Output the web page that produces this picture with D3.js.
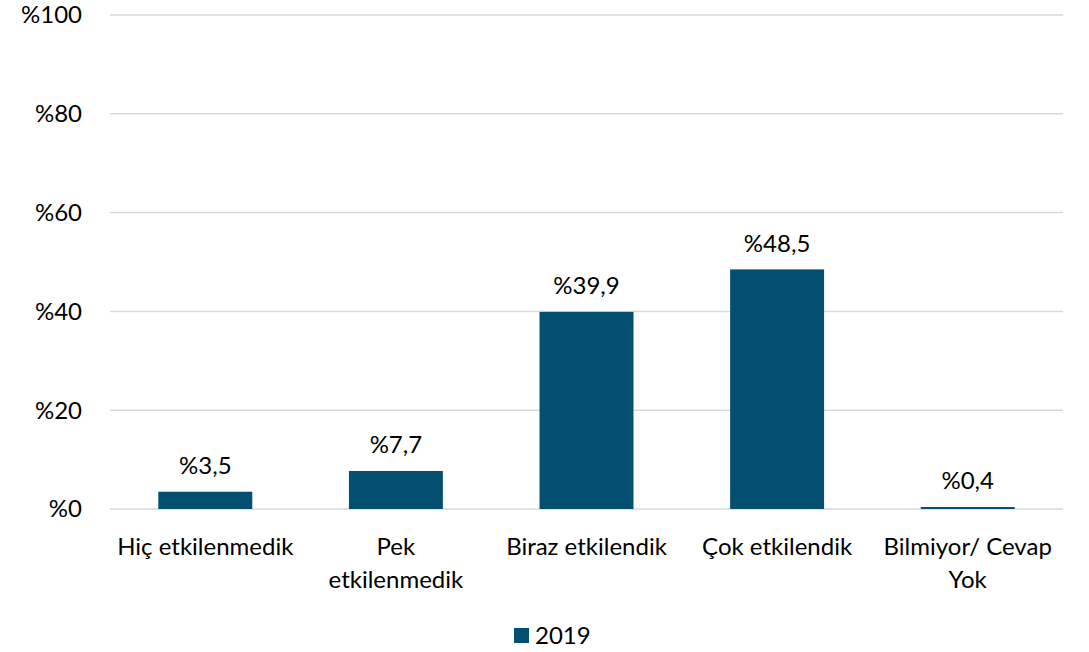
<!DOCTYPE html>
<html><head><meta charset="utf-8">
<script src="https://cdn.jsdelivr.net/npm/d3@7"></script>
<style>body{margin:0;background:#fff}svg{display:block}text{font-family:Lato,"Open Sans",sans-serif;fill:#000}</style>
</head><body><svg id="c" width="1089" height="652"></svg>
<script>
const categories = [["Hiç etkilenmedik"], ["Pek", "etkilenmedik"], ["Biraz etkilendik"], ["Çok etkilendik"], ["Bilmiyor/ Cevap", "Yok"]];
const values2019 = [3.5, 7.7, 39.9, 48.5, 0.4];
const yTicks = [0, 20, 40, 60, 80, 100];
const seriesName = "2019";
const color = "#034f72";

const svg = d3.select("#c");
const x = d3.scaleBand().domain(d3.range(categories.length)).range([110, 1063]).paddingInner(0.507).paddingOuter(0.2535);
const y = d3.scaleLinear().domain([0, 100]).range([509, 15]);
const fmt = v => "%" + String(v).replace(".", ",");
const fs = 24;

svg.append("g").selectAll("line").data(yTicks).join("line")
  .attr("x1", 110).attr("x2", 1063).attr("y1", d => y(d)).attr("y2", d => y(d))
  .attr("stroke", "#d9d9d9").attr("stroke-width", 1.5);

svg.append("g").selectAll("text").data(yTicks).join("text")
  .attr("x", 82).attr("y", d => y(d)).attr("dy", "0.35em").attr("text-anchor", "end")
  .attr("font-size", fs).text(d => "%" + d);

svg.append("g").selectAll("rect").data(values2019).join("rect")
  .attr("x", (d, i) => x(i)).attr("width", x.bandwidth())
  .attr("y", d => y(d)).attr("height", d => y(0) - y(d)).attr("fill", color);

svg.append("g").selectAll("text").data(values2019).join("text")
  .attr("x", (d, i) => x(i) + x.bandwidth() / 2).attr("y", d => y(d) - 26).attr("dy", "0.35em")
  .attr("text-anchor", "middle").attr("font-size", fs).text(fmt);

const cat = svg.append("g").selectAll("text").data(categories).join("text")
  .attr("text-anchor", "middle").attr("font-size", fs)
  .attr("transform", (d, i) => `translate(${x(i) + x.bandwidth() / 2},547)`);
cat.selectAll("tspan").data(d => d).join("tspan")
  .attr("x", 0).attr("y", (d, j) => j * 33).attr("dy", "0.35em").text(d => d);

const lg = svg.append("g");
lg.append("rect").attr("x", 514).attr("y", 628).attr("width", 15).attr("height", 15).attr("fill", color);
lg.append("text").attr("x", 535).attr("y", 636).attr("dy", "0.35em").attr("font-size", fs).text(seriesName);
</script></body></html>
